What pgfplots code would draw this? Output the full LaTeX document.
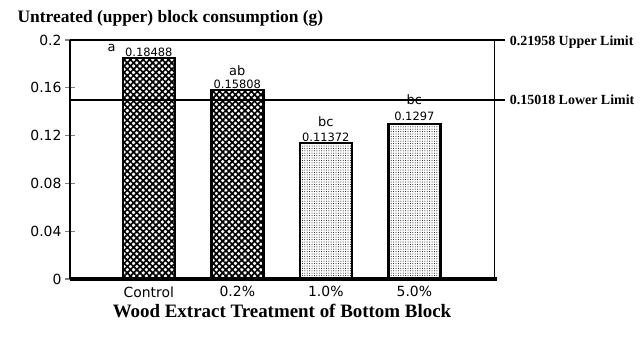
\documentclass[border=0pt]{standalone}
\usepackage{pgfplots}
\pgfplotsset{compat=1.18}
\usetikzlibrary{patterns,patterns.meta}
\usepackage{fontspec}
\setmainfont{Liberation Serif}
\newfontfamily\sansf{DejaVu Sans}
\newcommand\valfont{\sansf\fontsize{11.5}{13}\selectfont}
\newcommand\letfont{\sansf\fontsize{13}{15}\selectfont}
\begin{document}
\begin{tikzpicture}[x=1bp,y=1bp]
\path (0,0) rectangle (640,-362);
\begin{axis}[
  at={(70bp,-279bp)}, anchor=south west,
  scale only axis, width=424bp, height=239bp,
  xmin=-0.89, xmax=3.9, ymin=0, ymax=0.2,
  clip=false,
  axis line style={line width=1bp},
  xtick={0,1,2,3}, xticklabels={Control,0.2\%,1.0\%,5.0\%},
  major x tick style={draw=none},
  ytick={0,0.04,0.08,0.12,0.16,0.2},
  yticklabels={0,0.04,0.08,0.12,0.16,0.2},
  ytick pos=left,
  tick align=center,
  major tick length=10bp,
  major y tick style={line width=1.2bp},
  ticklabel style={font=\sansf\fontsize{14}{16}\selectfont},
  xticklabel style={yshift=1bp},
  xlabel={Wood Extract Treatment of Bottom Block},
  xlabel style={font=\bfseries\fontsize{19}{22}\selectfont},
]
\addplot[ybar, bar shift=0pt, bar width=52bp, draw=black, line width=2.5bp,
  pattern={Hatch[angle=45,distance=4.5bp,line width=1.7bp]}]
  coordinates {(0,0.18488) (1,0.15808)};
\addplot[ybar, bar shift=0pt, bar width=52bp, draw=black, line width=2.5bp,
  pattern={Dots[distance=2.4bp,radius=0.5bp]}]
  coordinates {(2,0.11372) (3,0.1297)};
\draw[line width=2bp] (axis cs:-0.89,0.2) -- (axis cs:4.02,0.2);
\draw[line width=2bp] (axis cs:-0.89,0.15018) -- (axis cs:4.02,0.15018);
\draw[line width=4bp] (axis cs:-0.89,0) -- (axis cs:3.93,0);
\draw[line width=2bp] (axis cs:-0.89,0) -- (axis cs:-0.89,0.2);
\node[anchor=west, font=\bfseries\fontsize{14}{16}\selectfont, yshift=-2bp] at (axis cs:4.04,0.2) {0.21958 Upper Limit};
\node[anchor=west, font=\bfseries\fontsize{14}{16}\selectfont] at (axis cs:4.04,0.15018) {0.15018 Lower Limit};
\node[anchor=base, inner sep=0, font=\valfont, yshift=2bp] at (axis cs:0,0.18488) {0.18488};
\node[anchor=base, inner sep=0, font=\letfont, yshift=7bp] at (axis cs:-0.42,0.18488) {a};
\node[anchor=base, inner sep=0, font=\valfont, yshift=2bp] at (axis cs:1,0.15808) {0.15808};
\node[anchor=base, inner sep=0, font=\letfont, yshift=15bp] at (axis cs:1,0.15808) {ab};
\node[anchor=base, inner sep=0, font=\valfont, yshift=2bp] at (axis cs:2,0.11372) {0.11372};
\node[anchor=base, inner sep=0, font=\letfont, yshift=17bp] at (axis cs:2,0.11372) {bc};
\node[anchor=base, inner sep=0, font=\valfont, yshift=4bp] at (axis cs:3,0.1297) {0.1297};
\node[anchor=base, inner sep=0, font=\letfont, yshift=20bp] at (axis cs:3,0.1297) {bc};
\end{axis}
\node[anchor=west, font=\bfseries\fontsize{17.5}{20}\selectfont] at (14,-18) {Untreated (upper) block consumption (g)};
\end{tikzpicture}
\end{document}
